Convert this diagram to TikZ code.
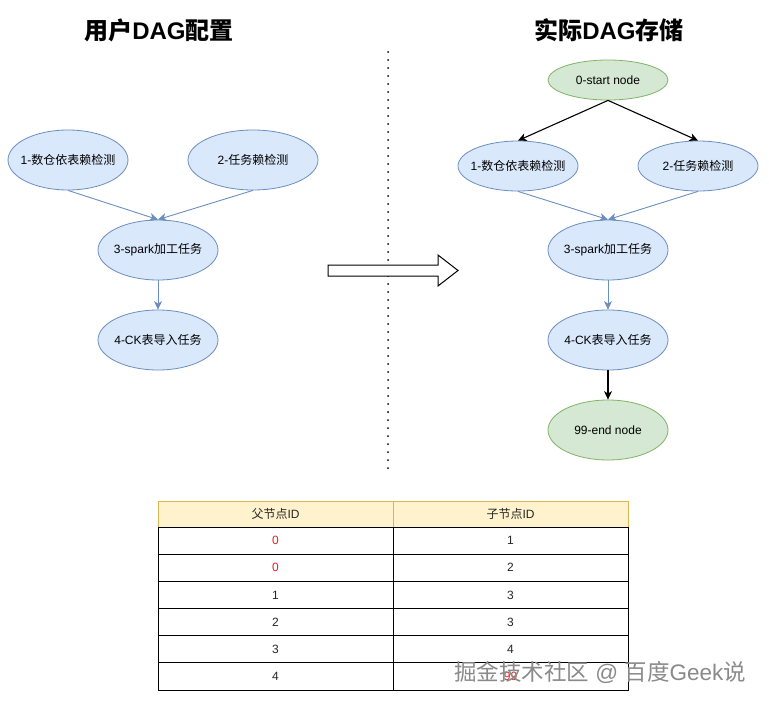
\documentclass[tikz,border=0pt]{standalone}
\usepackage{fontspec}
\setmainfont{Liberation Sans}
\newfontfamily\cjk{Noto Sans CJK SC}
\usetikzlibrary{shapes.geometric,arrows.meta}
\definecolor{bluefill}{HTML}{DAE8FC}
\definecolor{blueline}{HTML}{6C8EBF}
\definecolor{greenfill}{HTML}{D5E8D4}
\definecolor{greenline}{HTML}{82B366}
\definecolor{hdrfill}{HTML}{FFF2CC}
\definecolor{hdrline}{HTML}{D6B656}
\definecolor{redtxt}{HTML}{E02020}
\definecolor{wmgray}{HTML}{8A8A8A}
\newcommand\nodetxt[1]{\makebox[0pt]{#1}}
\tikzset{
  ell/.style={ellipse, draw, inner sep=0pt, minimum width=120pt, minimum height=60pt,
    font=\fontsize{12}{14}\selectfont, text=black},
  bluenode/.style={ell, fill=bluefill, draw=blueline, line width=0.8pt},
  greennode/.style={ell, fill=greenfill, draw=greenline, line width=0.8pt},
  blueedge/.style={draw=blueline, line width=0.9pt, -{Stealth[length=8.5pt,width=8pt,inset=2.5pt]}},
  blackedge/.style={draw=black, line width=1.1pt, -{Stealth[length=8.5pt,width=8pt,inset=2.5pt]}},
  titletxt/.style={font=\fontsize{24}{27}\selectfont\bfseries, inner sep=0pt},
  cell/.style={rectangle, draw=black, line width=0.9pt, minimum width=235pt,
    minimum height=27.17pt, inner sep=0pt, font=\fontsize{12}{14}\selectfont, text=black!85},
  hdrcell/.style={cell, fill=hdrfill, draw=hdrline, minimum height=26pt},
  redval/.style={text=redtxt},
  dotline/.style={draw=black, line width=2pt, dash pattern=on 0pt off 8pt, line cap=round},
  bigarrow/.style={draw=black, line width=1pt, fill=white},
  wmark/.style={font=\fontsize{22.5}{24}\selectfont, text=wmgray, inner sep=0pt}
}
\begin{document}
\begin{tikzpicture}[x=1pt,y=-1pt]
\useasboundingbox (0,0) rectangle (769,704);
\fill[white] (0,0) rectangle (769,704);

% titles
\node[titletxt] (tl) at (159,30) {{\cjk 用户}DAG{\cjk 配置}};
\node[titletxt] (tr) at (609,30) {{\cjk 实际}DAG{\cjk 存储}};

% divider
\draw[dotline] (388,52) -- (388,470);

% left graph
\node[bluenode] (n1) at (68,160) {\nodetxt{1-{\cjk 数仓依表赖检测}}};
\node[bluenode, minimum width=130pt] (n2) at (253,160) {\nodetxt{2-{\cjk 任务赖检测}}};
\node[bluenode] (n3) at (158,250) {\nodetxt{3-spark{\cjk 加工任务}}};
\node[bluenode] (n4) at (158,340) {\nodetxt{4-CK{\cjk 表导入任务}}};
\draw[blueedge] (n1.south) -- (n3.north);
\draw[blueedge] (n2.south) -- (n3.north);
\draw[blueedge] (n3.south) -- (n4.north);

% big hollow arrow
\draw[bigarrow] (328,265) -- (438,265) -- (438,255) -- (458,270.5) -- (438,286) -- (438,276) -- (328,276) -- cycle;

% right graph
\node[greennode, minimum height=40pt] (s0) at (608,80) {\nodetxt{0-start node}};
\node[bluenode, minimum height=50pt] (r1) at (518,166) {\nodetxt{1-{\cjk 数仓依表赖检测}}};
\node[bluenode, minimum height=50pt] (r2) at (698,166) {\nodetxt{2-{\cjk 任务赖检测}}};
\node[bluenode] (r3) at (608,250) {\nodetxt{3-spark{\cjk 加工任务}}};
\node[bluenode] (r4) at (608,340) {\nodetxt{4-CK{\cjk 表导入任务}}};
\node[greennode] (e99) at (608,430) {\nodetxt{99-end node}};
\draw[blackedge] (s0.south) -- (r1.north);
\draw[blackedge] (s0.south) -- (r2.north);
\draw[blueedge] (r1.south) -- (r3.north);
\draw[blueedge] (r2.south) -- (r3.north);
\draw[blueedge] (r3.south) -- (r4.north);
\draw[blackedge] (r4.south) -- (e99.north);

% table
\node[hdrcell] (h1) at (275.5,514) {{\cjk 父节点}ID};
\node[hdrcell] (h2) at (510.5,514) {{\cjk 子节点}ID};
\node[cell, redval] (a1) at (275.5,540.6) {0};
\node[cell] (b1) at (510.5,540.6) {1};
\node[cell, redval] (a2) at (275.5,567.75) {0};
\node[cell] (b2) at (510.5,567.75) {2};
\node[cell] (a3) at (275.5,594.9) {1};
\node[cell] (b3) at (510.5,594.9) {3};
\node[cell] (a4) at (275.5,622.1) {2};
\node[cell] (b4) at (510.5,622.1) {3};
\node[cell] (a5) at (275.5,649.25) {3};
\node[cell] (b5) at (510.5,649.25) {4};
\node[cell] (a6) at (275.5,676.4) {4};
\node[cell, redval] (b6) at (510.5,676.4) {99};

% watermark
\node[wmark] (wm) at (600,672) {{\cjk 掘金技术社区} @ {\cjk 百度}Geek{\cjk 说}};
\end{tikzpicture}
\end{document}
